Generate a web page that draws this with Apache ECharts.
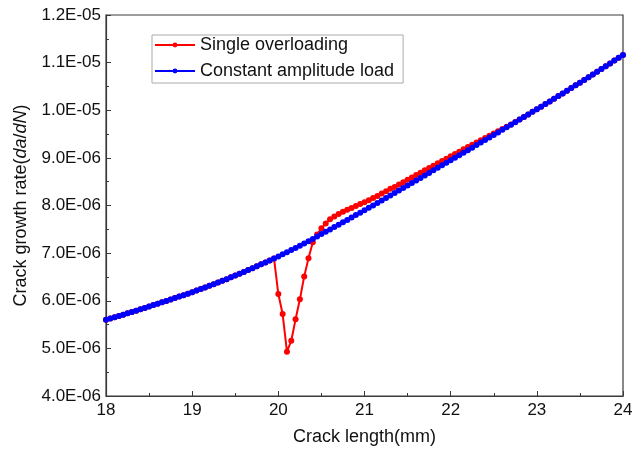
<!DOCTYPE html>
<html>
<head>
<meta charset="utf-8">
<script src="https://cdn.jsdelivr.net/npm/echarts@6/dist/echarts.min.js"></script>
<style>
  html, body { margin: 0; padding: 0; background: #fff; }
  #chart { width: 636px; height: 451px; }
</style>
</head>
<body>
<div id="chart"></div>
<script>
// Crack length (mm), 0.05 mm steps
const crackLength = [
  18.00, 18.05, 18.10, 18.15, 18.20, 18.25, 18.30, 18.35, 18.40, 18.45,
  18.50, 18.55, 18.60, 18.65, 18.70, 18.75, 18.80, 18.85, 18.90, 18.95,
  19.00, 19.05, 19.10, 19.15, 19.20, 19.25, 19.30, 19.35, 19.40, 19.45,
  19.50, 19.55, 19.60, 19.65, 19.70, 19.75, 19.80, 19.85, 19.90, 19.95,
  20.00, 20.05, 20.10, 20.15, 20.20, 20.25, 20.30, 20.35, 20.40, 20.45,
  20.50, 20.55, 20.60, 20.65, 20.70, 20.75, 20.80, 20.85, 20.90, 20.95,
  21.00, 21.05, 21.10, 21.15, 21.20, 21.25, 21.30, 21.35, 21.40, 21.45,
  21.50, 21.55, 21.60, 21.65, 21.70, 21.75, 21.80, 21.85, 21.90, 21.95,
  22.00, 22.05, 22.10, 22.15, 22.20, 22.25, 22.30, 22.35, 22.40, 22.45,
  22.50, 22.55, 22.60, 22.65, 22.70, 22.75, 22.80, 22.85, 22.90, 22.95,
  23.00, 23.05, 23.10, 23.15, 23.20, 23.25, 23.30, 23.35, 23.40, 23.45,
  23.50, 23.55, 23.60, 23.65, 23.70, 23.75, 23.80, 23.85, 23.90, 23.95,
  24.00
];

// Crack growth rate da/dN, in units of 1E-06
const rateConstant = [
  5.600, 5.627, 5.654, 5.681, 5.708, 5.736, 5.764, 5.792, 5.820, 5.850,
  5.880, 5.909, 5.938, 5.967, 5.996, 6.026, 6.056, 6.087, 6.118, 6.149,
  6.180, 6.213, 6.246, 6.280, 6.314, 6.348, 6.383, 6.418, 6.454, 6.492,
  6.530, 6.568, 6.606, 6.645, 6.684, 6.724, 6.764, 6.805, 6.846, 6.888,
  6.930, 6.974, 7.018, 7.063, 7.109, 7.155, 7.202, 7.250, 7.299, 7.349,
  7.400, 7.449, 7.498, 7.547, 7.597, 7.647, 7.697, 7.747, 7.798, 7.849,
  7.900, 7.951, 8.002, 8.053, 8.105, 8.157, 8.209, 8.261, 8.314, 8.367,
  8.420, 8.473, 8.526, 8.579, 8.632, 8.685, 8.738, 8.791, 8.844, 8.897,
  8.950, 9.003, 9.056, 9.109, 9.162, 9.215, 9.268, 9.321, 9.374, 9.427,
  9.480, 9.534, 9.588, 9.642, 9.696, 9.750, 9.804, 9.858, 9.912, 9.966,
  10.020, 10.075, 10.130, 10.186, 10.242, 10.298, 10.354, 10.410, 10.466, 10.523,
  10.580, 10.637, 10.694, 10.752, 10.810, 10.868, 10.926, 10.984, 11.042, 11.101,
  11.160
];

const rateOverload = [
  5.600, 5.627, 5.654, 5.681, 5.708, 5.736, 5.764, 5.792, 5.820, 5.850,
  5.880, 5.909, 5.938, 5.967, 5.996, 6.026, 6.056, 6.087, 6.118, 6.149,
  6.180, 6.213, 6.246, 6.280, 6.314, 6.348, 6.383, 6.418, 6.454, 6.492,
  6.530, 6.568, 6.606, 6.645, 6.684, 6.724, 6.764, 6.805, 6.846, 6.888,
  6.140, 5.720, 4.930, 5.160, 5.610, 6.030, 6.510, 6.890, 7.230, 7.390,
  7.520, 7.620, 7.710, 7.770, 7.820, 7.870, 7.910, 7.950, 7.990, 8.030,
  8.070, 8.110, 8.160, 8.200, 8.250, 8.300, 8.350, 8.390, 8.440, 8.490,
  8.540, 8.590, 8.640, 8.690, 8.740, 8.785, 8.835, 8.885, 8.935, 8.983,
  9.032, 9.081, 9.130, 9.179, 9.227, 9.275, 9.323, 9.370, 9.417, 9.464,
  9.510, 9.558, 9.606, 9.654, 9.703, 9.753, 9.804, 9.858, 9.912, 9.966,
  10.020, 10.075, 10.130, 10.186, 10.242, 10.298, 10.354, 10.410, 10.466, 10.523,
  10.580, 10.637, 10.694, 10.752, 10.810, 10.868, 10.926, 10.984, 11.042, 11.101,
  11.160
];

const seriesNames = ['Single overloading', 'Constant amplitude load'];
const seriesColors = ['#ff0000', '#0000ff'];

function pairs(xs, ys) {
  return xs.map((x, i) => [x, ys[i]]);
}

// 1E-06 units -> "9.0E-06" / "1.1E-05"
function sciLabel(v) {
  if (v >= 10) return (v / 10).toFixed(1) + 'E-05';
  return v.toFixed(1) + 'E-06';
}

const FONT = '"Liberation Sans", Arial, sans-serif';
const AXIS_COLOR = '#3a3a3a';

const chart = echarts.init(document.getElementById('chart'), null, { renderer: 'canvas' });

chart.setOption({
  animation: false,
  backgroundColor: '#fff',
  textStyle: { fontFamily: FONT },
  grid: {
    left: 106, right: 13, top: 15, bottom: 54,
    show: true, borderColor: AXIS_COLOR, borderWidth: 1.2, backgroundColor: 'transparent'
  },
  legend: {
    data: seriesNames,
    orient: 'vertical',
    left: 152, top: 35,
    itemWidth: 40, itemHeight: 6, itemGap: 8,
    padding: [1, 9, 3, 2],
    borderColor: '#aaa', borderWidth: 1,
    textStyle: { fontFamily: FONT, fontSize: 18, color: '#111', lineHeight: 18 }
  },
  xAxis: {
    type: 'value',
    min: 18, max: 24, interval: 1,
    name: 'Crack length(mm)',
    nameLocation: 'middle',
    nameGap: 32,
    nameTextStyle: { fontFamily: FONT, fontSize: 18, color: '#111' },
    axisLine: { show: true, lineStyle: { color: AXIS_COLOR, width: 1.2 } },
    axisTick: { show: true, inside: true, length: 5, lineStyle: { color: AXIS_COLOR } },
    minorTick: { show: true, splitNumber: 2, length: 3, lineStyle: { color: AXIS_COLOR } },
    splitLine: { show: false },
    axisLabel: { fontFamily: FONT, fontSize: 17, color: '#111', margin: 6 }
  },
  yAxis: {
    type: 'value',
    min: 4, max: 12, interval: 1,
    name: '{n|Crack growth rate(}{i|da}{n|/}{i|dN}{n|)}',
    nameLocation: 'middle',
    nameGap: 76,
    nameRotate: 90,
    nameTextStyle: {
      fontFamily: FONT, fontSize: 18, color: '#111',
      rich: {
        n: { fontFamily: FONT, fontSize: 18, color: '#111' },
        i: { fontFamily: FONT, fontSize: 18, color: '#111', fontStyle: 'italic' }
      }
    },
    axisLine: { show: true, lineStyle: { color: AXIS_COLOR, width: 1.2 } },
    axisTick: { show: true, inside: true, length: 5, lineStyle: { color: AXIS_COLOR } },
    minorTick: { show: true, splitNumber: 2, length: 3, lineStyle: { color: AXIS_COLOR } },
    splitLine: { show: false },
    axisLabel: { fontFamily: FONT, fontSize: 17, color: '#111', margin: 5, formatter: sciLabel }
  },
  series: [
    {
      name: seriesNames[0],
      type: 'line',
      data: pairs(crackLength, rateOverload),
      symbol: 'circle', symbolSize: 6,
      lineStyle: { color: seriesColors[0], width: 2 },
      itemStyle: { color: seriesColors[0] },
      z: 2
    },
    {
      name: seriesNames[1],
      type: 'line',
      data: pairs(crackLength, rateConstant),
      symbol: 'circle', symbolSize: 6,
      lineStyle: { color: seriesColors[1], width: 2 },
      itemStyle: { color: seriesColors[1] },
      z: 3
    }
  ]
});
</script>
</body>
</html>
